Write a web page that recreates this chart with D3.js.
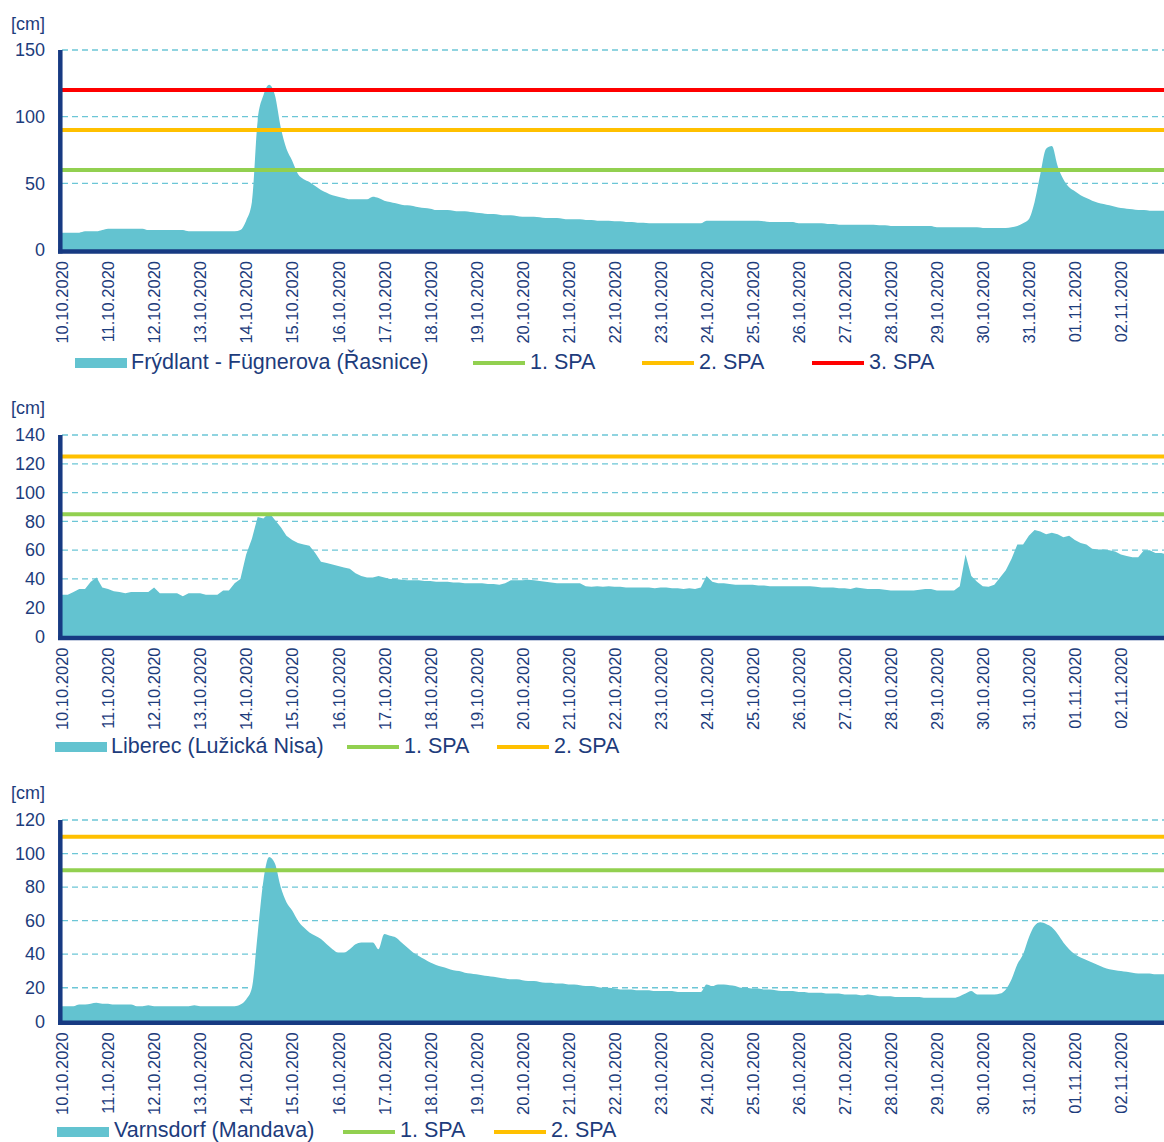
<!DOCTYPE html>
<html><head><meta charset="utf-8">
<script src="https://cdn.jsdelivr.net/npm/d3@7"></script>
<style>
body{margin:0;background:#fff}
svg{display:block}
text{font-family:Arial,"Liberation Sans",sans-serif}
</style>
</head><body>
<svg id="chart" width="1164" height="1142"></svg>
<script>
// ---------- DATA ----------
const dateLabels = ["10.10.2020","11.10.2020","12.10.2020","13.10.2020","14.10.2020","15.10.2020",
  "16.10.2020","17.10.2020","18.10.2020","19.10.2020","20.10.2020","21.10.2020","22.10.2020",
  "23.10.2020","24.10.2020","25.10.2020","26.10.2020","27.10.2020","28.10.2020","29.10.2020",
  "30.10.2020","31.10.2020","01.11.2020","02.11.2020"];
const stepHours = 3; // one value every 3 hours, starting 10.10.2020 00:00

const frydlant = [
13,13,13,13,14,14,14,15,
16,16,16,16,16,16,16,15,
15,15,15,15,15,15,14,14,
14,14,14,14,14,14,14,15,
22,36,97,116,124,116,92,76,
67,57,53,51,48,45,43,41,
40,39,38,38,38,38,40,39,
37,36,35,34,33.5,33,32,31.5,
31,30,30,30,29.5,29,29,28.5,
28,27.5,27,27,26.5,26,26,25.5,
25,25,25,24.5,24,24,24,23.5,
23,23,23,22.5,22.5,22,22,22,
21.5,21.5,21,21,20.5,20.5,20,20,
20,20,20,20,20,20,20,20,
22,22,22,22,22,22,22,22,
22,22,21.5,21,21,21,21,21,
20,20,20,20,20,19.5,19.5,19,
19,19,19,19,19,19,18.5,18.5,
18,18,18,18,18,18,18,18,
17,17,17,17,17,17,17,17,
16.5,16.5,16.5,16.5,16.5,17,18,20,
23,36,57,76,78,63,53,47,
44,41,39,37,35.5,34.5,33.5,32.5,
31.5,31,30.5,30,30,29.5,29.5,29.5,
29.5];

const liberec = [
29,29,31,33,33,38,41,34,
33,31.5,31,30,31,31,31,31,
34,30,30,30,30,28,30,30,
30,29,29,29,32,32,37,40,
57,68,83,82,86,81,76,70,
67,65,64,63,58,52,51,50,
49,48,47,44,42,41,41,42,
41,40,40,39.5,39,39,39,38.5,
38.5,38,38,38,37.5,37.5,37,37,
37,37,36.5,36.5,36,37,39,39,
39,39.5,39,38.5,38,37.5,37,37,
37,37,37,35,34.5,35,34.5,35,
34.5,34.5,34,34,34,34,34,33.5,
34,34,33.5,33.5,33,33.5,33,34,
42,38,37,37,36.5,36,36,36,
36,35.5,35.5,35,35,35,35,35,
35,35,35,34.5,34,34,34,33.5,
33.5,33,34,33.5,33,33,33,32.5,
32,32,32,32,32,32.5,33,33,
32,32,32,32,35,57,42,38,
35,34.5,36,41,46,54,64,64,
70,74,73,71,72,71,69,70,
67,65,64,61,60.5,60.5,60,59,
57,56,55,55,60,60,58,58,
57];

const varnsdorf = [
9,9,9,10,10,10.5,11,10.5,
10.5,10,10,10,10,9,9,9.5,
9,9,9,9,9,9,9,9.5,
9,9,9,9,9,9,9,10,
13,20,52,84,98,94,80,71,
66,60,56,53,51,49,46,43,
41,41,43,46,47,47,47,43,
52,51,50,47,44,41,39,37,
35,33.5,32.5,31.5,30.5,30,29,28.5,
28,27.5,27,26.5,26,25.5,25,25,
24.5,24,24,23.5,23,23,22.5,22.5,
22,22,21.5,21,21,20.5,20,20,
19.5,19,19,19,18.5,18.5,18.5,18,
18,18,18,17.5,17.5,17.5,17.5,17.5,
22,21,22,22,21.5,21,20,20,
19.5,19.5,19,19,18.5,18,18,18,
17.5,17.5,17,17,17,16.5,16.5,16.5,
16,16,16,15.5,16,15.5,15,15,
15,14.5,14.5,14.5,14.5,14.5,14,14,
14,14,14,14,15,16.5,18,16,
16,16,16,16.5,19,25,34,40,
50,57,59,58,56,52,47,43,
40,38,36.5,35,33.5,32,31,30.5,
30,29.5,29,28.5,28.5,28.5,28,28,
28];

const stationNames = ["Frýdlant - Fügnerova (Řasnice)","Liberec (Lužická Nisa)","Varnsdorf (Mandava)"];
const spaNames = ["1. SPA","2. SPA","3. SPA"];
const spaFrydlant = [60, 90, 120];
const spaLiberec = [85, 125];
const spaVarnsdorf = [90, 110];
const yMaxes = [150, 140, 120];
const yTickSteps = [50, 20, 20];
const unitLabel = "[cm]";

// ---------- STYLE / LAYOUT ----------
const COL_TEXT = "#1d3c7c";
const COL_AXIS = "#173a82";
const COL_AREA = "#63c3d0";
const COL_GRID = "#6cc6d6";
const SPA_COLORS = ["#92d050", "#ffc000", "#ff0000"];

const layout = [
  {top: 50,  bottom: 250,   cmY: 30,  legendY: 363, textY: 369,
   swatchX: 75, nameX: 131, lineXs: [473, 642, 812]},
  {top: 435, bottom: 636.5, cmY: 414, legendY: 747, textY: 752.5,
   swatchX: 55, nameX: 111, lineXs: [347, 497]},
  {top: 820, bottom: 1021.3, cmY: 799, legendY: 1132, textY: 1137,
   swatchX: 57, nameX: 114, lineXs: [343, 494]}
];
const series = [frydlant, liberec, varnsdorf];
const spas = [spaFrydlant, spaLiberec, spaVarnsdorf];
const curves = [d3.curveMonotoneX, d3.curveLinear, d3.curveMonotoneX];

const X0 = 62, X1 = 1164;
const dayPx = 46.04;
const totalHours = (X1 - X0) / dayPx * 24;
const FONT = "Arial, 'Liberation Sans', sans-serif";

const svg = d3.select("#chart");
const x = d3.scaleLinear().domain([0, totalHours]).range([X0, X1]);

series.forEach((vals, p) => {
  const L = layout[p];
  const g = svg.append("g");
  const y = d3.scaleLinear().domain([0, yMaxes[p]]).range([L.bottom, L.top]);
  const ticks = d3.range(0, yMaxes[p] + 0.001, yTickSteps[p]);

  // gridlines
  g.append("g").selectAll("line").data(ticks.filter(t => t > 0)).join("line")
    .attr("x1", X0).attr("x2", X1)
    .attr("y1", d => y(d)).attr("y2", d => y(d))
    .attr("stroke", COL_GRID).attr("stroke-width", 1.3)
    .attr("stroke-dasharray", "6,4");

  // area
  const pts = vals.map((v, i) => [i * stepHours, v]);
  const area = d3.area().x(d => x(d[0])).y0(y(0)).y1(d => y(d[1])).curve(curves[p]);
  g.append("path").datum(pts).attr("d", area).attr("fill", COL_AREA);

  // SPA lines
  g.append("g").selectAll("line").data(spas[p]).join("line")
    .attr("x1", 59).attr("x2", X1)
    .attr("y1", d => y(d)).attr("y2", d => y(d))
    .attr("stroke", (d, i) => SPA_COLORS[i]).attr("stroke-width", 4);

  // y axis labels
  const yAxis = d3.axisLeft(y).tickValues(ticks).tickSize(0).tickPadding(0).tickFormat(d3.format("d"));
  const ya = g.append("g").attr("transform", "translate(45,0)").call(yAxis);
  ya.select(".domain").remove();
  ya.selectAll("text").attr("fill", COL_TEXT).style("font-size", "18px").style("font-family", FONT);

  // x axis labels
  const xAxis = d3.axisBottom(x).tickValues(dateLabels.map((d, i) => i * 24))
    .tickSize(0).tickFormat((d, i) => dateLabels[i]);
  const xa = g.append("g").attr("transform", `translate(0,${L.bottom})`).call(xAxis);
  xa.select(".domain").remove();
  xa.selectAll("text")
    .attr("transform", "rotate(-90)")
    .attr("x", -11).attr("y", 0).attr("dy", "0.35em")
    .style("text-anchor", "end")
    .attr("fill", COL_TEXT).style("font-size", "16.5px").style("font-family", FONT);

  // axis lines
  g.append("line").attr("x1", 60.3).attr("x2", 60.3).attr("y1", L.top).attr("y2", L.bottom + 3.5)
    .attr("stroke", COL_AXIS).attr("stroke-width", 4.5);
  g.append("line").attr("x1", 58).attr("x2", X1).attr("y1", L.bottom + 1.5).attr("y2", L.bottom + 1.5)
    .attr("stroke", COL_AXIS).attr("stroke-width", 4.5);

  // unit label
  g.append("text").attr("x", 11).attr("y", L.cmY).text(unitLabel)
    .attr("fill", COL_TEXT).style("font-size", "18px");

  // legend
  const lg = g.append("g");
  lg.append("rect").attr("x", L.swatchX).attr("y", L.legendY - 5).attr("width", 52).attr("height", 10)
    .attr("fill", COL_AREA);
  lg.append("text").attr("x", L.nameX).attr("y", L.textY)
    .text(stationNames[p]).attr("fill", COL_TEXT).style("font-size", "21.5px");
  spas[p].forEach((s, i) => {
    const lx = L.lineXs[i];
    lg.append("line").attr("x1", lx).attr("x2", lx + 52).attr("y1", L.legendY).attr("y2", L.legendY)
      .attr("stroke", SPA_COLORS[i]).attr("stroke-width", 4);
    lg.append("text").attr("x", lx + 57).attr("y", L.textY)
      .text(spaNames[i]).attr("fill", COL_TEXT).style("font-size", "21.5px");
  });
});
</script>
</body></html>
